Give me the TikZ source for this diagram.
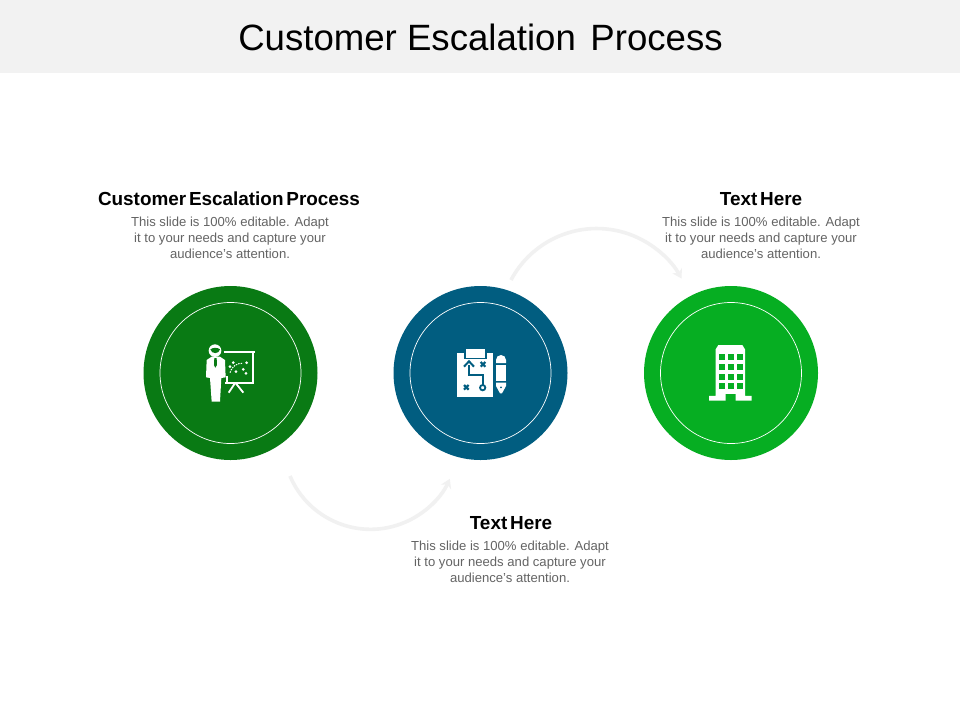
\documentclass[tikz,border=0pt]{standalone}
\usepackage{fontspec}
\setmainfont{Liberation Sans}
\usetikzlibrary{arrows.meta}
\definecolor{band}{RGB}{242,242,242}
\definecolor{dgreen}{RGB}{9,122,20}
\definecolor{dblue}{RGB}{1,93,128}
\definecolor{lgreen}{RGB}{6,174,34}
\definecolor{flowc}{RGB}{241,241,241}
\definecolor{bodyc}{RGB}{100,100,100}
\newcommand{\hdtext}[1]{{\fontsize{18.9}{20}\selectfont\bfseries\spaceskip=.15em\relax #1}}
\tikzset{
  disc/.style={circle,minimum size=174pt,inner sep=0pt,fill=#1},
  ring/.style={circle,minimum size=141pt,inner sep=0pt,draw=white,line width=.7pt},
  heading/.style={text=black,inner sep=0pt,anchor=center},
  bodytext/.style={font=\fontsize{13.1}{16}\selectfont,text=bodyc,align=center,inner sep=0pt,anchor=north},
  flow/.style={draw=flowc,line width=3.6pt,-{Stealth[length=9pt,width=11pt]}},
  ico/.style={fill=white,draw=none}
}
\begin{document}
\begin{tikzpicture}[x=1pt,y=-1pt]
\useasboundingbox (0,0) rectangle (960,720);
\fill[white] (0,0) rectangle (960,720);
\fill[band] (0,0) rectangle (960,73);
\node[inner sep=0pt,font=\fontsize{36.6}{40}\selectfont,text=black] (title) at (480.5,37) {Customer Escalation\hspace{.12em} Process};

\coordinate (a1) at (290,476);
\coordinate (a2) at (511,280);
\draw[flow] (a1) arc[start angle=157,end angle=25,radius=87.5];
\draw[flow] (a2) arc[start angle=-152,end angle=-29,radius=97];

\node[disc=dgreen] (c1) at (230.5,373) {};
\node[disc=dblue] (c2) at (480.5,373) {};
\node[disc=lgreen] (c3) at (731,373) {};
\node[ring] (r1) at (c1) {};
\node[ring] (r2) at (c2) {};
\node[ring] (r3) at (c3) {};

\node[heading] (h1) at (229,199) {\hdtext{Customer Escalation Process}};
\node[bodytext] (b1) at (230,216.5) {This slide is 100\% editable. Adapt\\it to your needs and capture your\\audience’s attention.};
\node[heading] (h2) at (761,199) {\hdtext{Text Here}};
\node[bodytext] (b2) at (761,216.5) {This slide is 100\% editable. Adapt\\it to your needs and capture your\\audience’s attention.};
\node[heading] (h3) at (511,523) {\hdtext{Text Here}};
\node[bodytext] (b3) at (510,540.5) {This slide is 100\% editable. Adapt\\it to your needs and capture your\\audience’s attention.};

% presenter icon
\begin{scope}[shift={(180,320)},x=.3333pt,y=-.3333pt]
  \fill[ico] (105,92) circle (19);
  \fill[dgreen] (91,88) .. controls (100,82) and (112,82) .. (120,88) .. controls (118,102) and (95,104) .. (91,88) -- cycle;
  \fill[ico] (80,120) -- (95,110) -- (120,110) -- (135,120) -- (137,172) -- (124,174) -- (120,245) -- (95,245) -- (90,174) -- (78,172) -- cycle;
  \fill[dgreen] (103,114) -- (110,114) -- (111,135) -- (106,143) -- (102,135) -- cycle;
  \draw[white,line width=2pt] (131,96) -- (226,96);
  \draw[white,line width=1.8pt] (220,96) -- (220,188) -- (136,188);
  \draw[white,line width=1.8pt] (140,188) -- (140,168);
  \draw[white,line width=1.8pt] (166,188) -- (146,218);
  \draw[white,line width=1.8pt] (166,188) -- (190,218);
  \draw[white,line width=1pt,dash pattern=on 1.5pt off 1pt] (150,158) .. controls (158,135) and (172,130) .. (188,130);
  \foreach \p/\q in {160/128,200/128,168/155,190/148,150/140,198/160}
    \fill[ico] (\p,\q) circle (4.5);
\end{scope}

% plan icon
\begin{scope}[shift={(440,330)},x=.3333pt,y=-.3333pt]
  \fill[ico] (52,68) rectangle (160,200);
  \fill[dblue] (73,62) rectangle (140,88);
  \fill[ico] (79,57) rectangle (134,83);
  \draw[dblue,line width=2pt] (87,105) -- (87,135) -- (128,135) -- (128,165);
  \draw[dblue,line width=2pt] (72,110) -- (87,94) -- (102,110);
  \draw[dblue,line width=1.8pt] (128,173) circle (8);
  \foreach \p/\q in {129/103,79/172}{
    \draw[dblue,line width=2.2pt] (\p-7,\q-7) -- (\p+7,\q+7) (\p-7,\q+7) -- (\p+7,\q-7);
  }
  \fill[ico] (168,90) arc[start angle=180,end angle=360,radius=15] -- (198,99) -- (168,99) -- cycle;
  \fill[ico] (168,104) rectangle (198,152);
  \fill[ico] (168,158) -- (198,158) -- (198,168) -- (186,190) -- (180,190) -- (168,168) -- cycle;
  \fill[dblue] (183,172) circle (3);
\end{scope}

% building icon
\begin{scope}[shift={(695,330)},x=.3333pt,y=-.3333pt]
  \fill[ico] (62,58) -- (70,45) -- (142,45) -- (150,58) -- (150,198) -- (170,198) -- (170,212) -- (122,212) -- (122,192) -- (92,192) -- (92,212) -- (42,212) -- (42,198) -- (62,198) -- cycle;
  \foreach \cx in {71,98,125}
    \foreach \ry in {72,102,131,159}
      \fill[lgreen] (\cx,\ry) rectangle ++(20,19);
\end{scope}
\end{tikzpicture}
\end{document}
